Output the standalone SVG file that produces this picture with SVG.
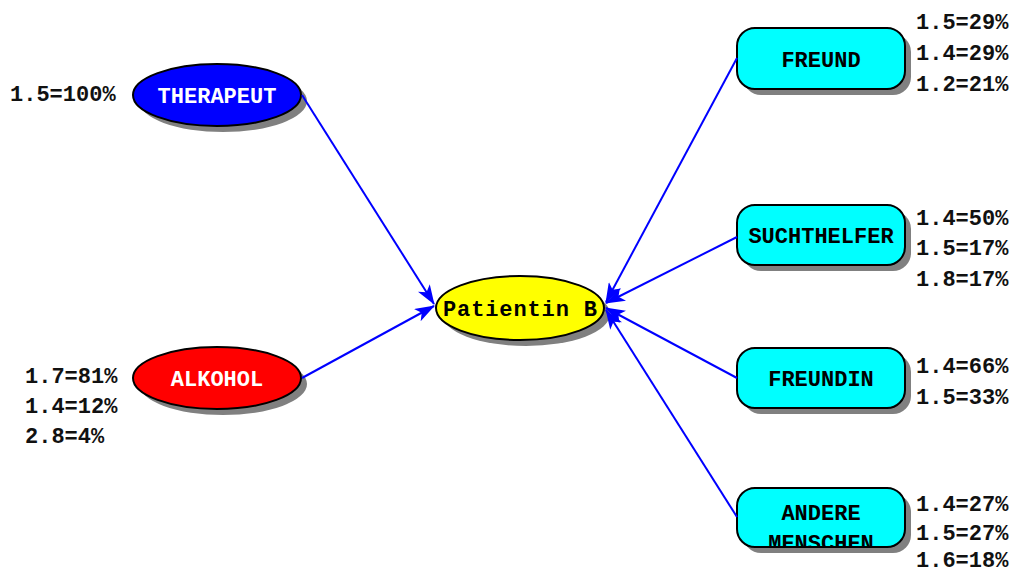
<svg xmlns="http://www.w3.org/2000/svg" width="1018" height="572" viewBox="0 0 1018 572">
  <style>
    text { font-family: "Liberation Mono", "Courier New", monospace; font-weight: bold; font-size: 22px; }
    .lbl { text-anchor: middle; }
    .stat { fill: #111; }
    .shadow { fill: #808080; }
    .outline { stroke: #000; stroke-width: 2; }
    .edge { stroke: #0000ff; stroke-width: 2; fill: none; marker-end: url(#arrow); }
  </style>
  <defs>
    <marker id="arrow" viewBox="0 0 20 14" refX="19" refY="7" markerWidth="20" markerHeight="14" markerUnits="userSpaceOnUse" orient="auto">
      <path d="M0,0 L20,7 L0,14 L5,7 Z" fill="#0000ff"/>
    </marker>
    <clipPath id="clip-andere">
      <rect x="737" y="488" width="168" height="59" rx="18"/>
    </clipPath>
  </defs>

  <rect width="1018" height="572" fill="#fff"/>

  <!-- left-hand sources -->
  <g id="therapeut">
    <ellipse class="shadow" cx="223" cy="101" rx="84" ry="31"/>
    <ellipse class="outline" cx="217" cy="95" rx="84" ry="31" fill="#0000ff"/>
    <text class="lbl" x="217" y="103" fill="#fff">THERAPEUT</text>
    <text class="stat" x="10" y="101">1.5=100%</text>
  </g>

  <g id="alkohol">
    <ellipse class="shadow" cx="223" cy="384" rx="84" ry="31"/>
    <ellipse class="outline" cx="217" cy="378" rx="84" ry="31" fill="#ff0000"/>
    <text class="lbl" x="217" y="386" fill="#fff">ALKOHOL</text>
    <text class="stat" x="25" y="383">1.7=81%</text>
    <text class="stat" x="25" y="413">1.4=12%</text>
    <text class="stat" x="25" y="443">2.8=4%</text>
  </g>

  <!-- centre -->
  <g id="patientin-b">
    <ellipse class="shadow" cx="526" cy="314" rx="84" ry="32"/>
    <ellipse class="outline" cx="520" cy="308" rx="84" ry="32" fill="#ffff00"/>
    <text class="lbl" x="520" y="316" fill="#000" textLength="154">Patientin B</text>
  </g>

  <!-- right-hand sources -->
  <g id="freund">
    <rect class="shadow" x="743" y="34" width="168" height="61" rx="18"/>
    <rect class="outline" x="737" y="28" width="168" height="61" rx="18" fill="#00ffff"/>
    <text class="lbl" x="821" y="67" fill="#000">FREUND</text>
    <text class="stat" x="916" y="29">1.5=29%</text>
    <text class="stat" x="916" y="60">1.4=29%</text>
    <text class="stat" x="916" y="91">1.2=21%</text>
  </g>

  <g id="suchthelfer">
    <rect class="shadow" x="743" y="211" width="168" height="60" rx="18"/>
    <rect class="outline" x="737" y="205" width="168" height="60" rx="18" fill="#00ffff"/>
    <text class="lbl" x="821" y="243" fill="#000">SUCHTHELFER</text>
    <text class="stat" x="916" y="225">1.4=50%</text>
    <text class="stat" x="916" y="255">1.5=17%</text>
    <text class="stat" x="916" y="286">1.8=17%</text>
  </g>

  <g id="freundin">
    <rect class="shadow" x="743" y="354" width="168" height="60" rx="18"/>
    <rect class="outline" x="737" y="348" width="168" height="60" rx="18" fill="#00ffff"/>
    <text class="lbl" x="821" y="386" fill="#000">FREUNDIN</text>
    <text class="stat" x="916" y="373">1.4=66%</text>
    <text class="stat" x="916" y="404">1.5=33%</text>
  </g>

  <g id="andere-menschen">
    <rect class="shadow" x="743" y="494" width="168" height="59" rx="18"/>
    <rect x="737" y="488" width="168" height="59" rx="18" fill="#00ffff"/>
    <g clip-path="url(#clip-andere)">
      <text class="lbl" x="821" y="520" fill="#000">ANDERE</text>
      <text class="lbl" x="821" y="550" fill="#000">MENSCHEN</text>
    </g>
    <rect class="outline" x="737" y="488" width="168" height="59" rx="18" fill="none"/>
    <text class="stat" x="916" y="511">1.4=27%</text>
    <text class="stat" x="916" y="540">1.5=27%</text>
    <text class="stat" x="916" y="567">1.6=18%</text>
  </g>

  <!-- connectors -->
  <g id="edges">
    <line class="edge" x1="302" y1="95" x2="434" y2="304"/>
    <line class="edge" x1="302" y1="378" x2="434" y2="306"/>
    <line class="edge" x1="737" y1="58" x2="606" y2="302"/>
    <line class="edge" x1="737" y1="237" x2="606" y2="303"/>
    <line class="edge" x1="737" y1="378" x2="606" y2="308"/>
    <line class="edge" x1="737" y1="517" x2="606" y2="310"/>
  </g>
</svg>
